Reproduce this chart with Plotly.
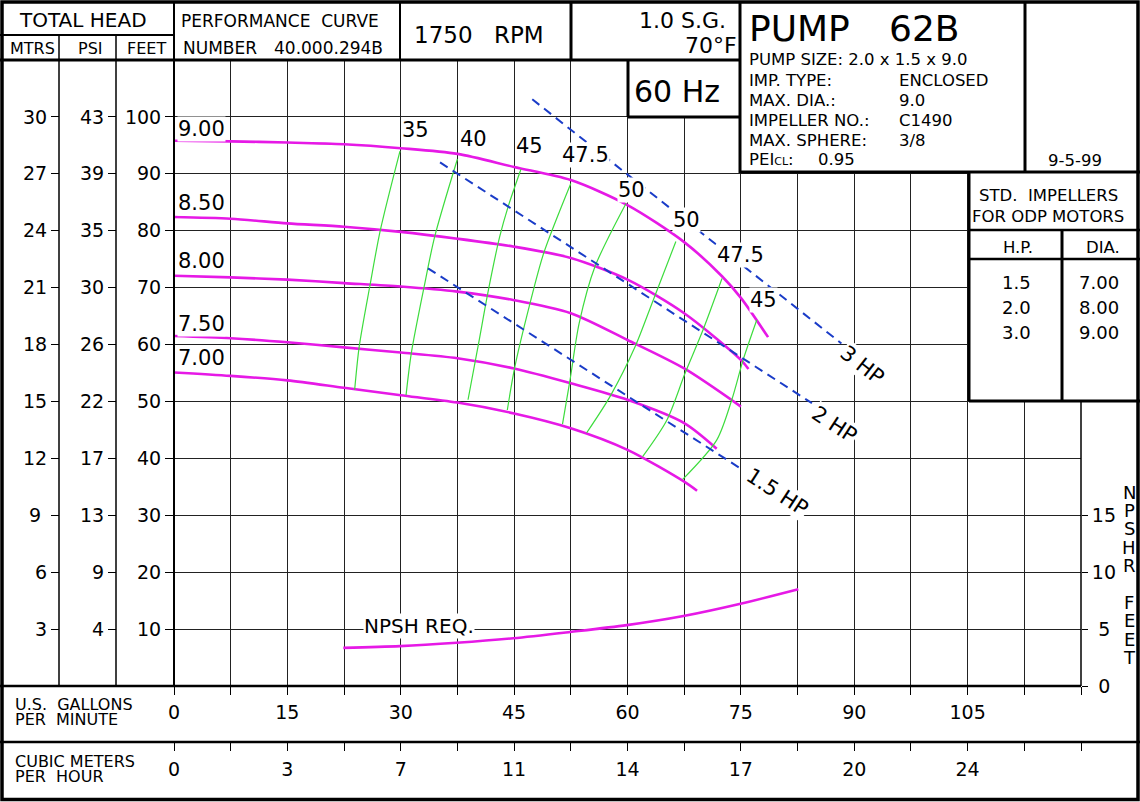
import plotly.graph_objects as go

W, H = 1140, 802
FONT = "DejaVu Sans"
MAG = "#e619e6"
GRN = "#3ddc3d"
BLU = "#1a3cc8"

# ---------------- data ----------------
gpm_ticks = [0, 7.5, 15, 22.5, 30, 37.5, 45, 52.5, 60, 67.5, 75, 82.5, 90, 97.5, 105, 112.5, 120]
gpm_labels = ["0", "", "15", "", "30", "", "45", "", "60", "", "75", "", "90", "", "105", "", ""]
cmh_labels = ["0", "", "3", "", "7", "", "11", "", "14", "", "17", "", "20", "", "24", "", ""]
feet_ticks = [10, 20, 30, 40, 50, 60, 70, 80, 90, 100]
feet_labels = ["10", "20", "30", "40", "50", "60", "70", "80", "90", "100"]
psi_labels = ["4", "9", "13", "17", "22", "26", "30", "35", "39", "43"]
mtrs_labels = ["3", "6", "9\u00a0", "12", "15", "18", "21", "24", "27", "30"]
npsh_ticks = [0, 5, 10, 15]
npsh_tick_labels = ["\u2006\u20060", "\u2006\u20065", "10", "15"]

# impeller diameter head curves (gpm, feet)
d900_q = [0, 7.5, 15, 22.5, 30, 37.5, 45, 52.5, 60, 67.5, 72.5, 75, 78.6]
d900_h = [95.8, 95.7, 95.5, 95.2, 94.5, 93.5, 91.2, 88.9, 84.5, 78.0, 72.0, 68.2, 61.3]
d850_q = [0, 7.5, 15, 22.5, 30, 37.5, 45, 52.5, 60, 67.5, 75, 76]
d850_h = [82.4, 82.1, 81.3, 80.7, 79.8, 78.6, 77.2, 75.2, 71.4, 65.5, 57.3, 55.7]
d800_q = [0, 7.5, 15, 22.5, 30, 37.5, 45, 52.5, 60, 67.5, 75]
d800_h = [72.1, 71.8, 71.4, 70.8, 70.2, 69.3, 67.8, 65.5, 60.8, 55.8, 49.1]
d750_q = [0, 7.5, 15, 22.5, 30, 37.5, 45, 52.5, 60, 67.5, 71.8]
d750_h = [61.5, 61.1, 60.4, 59.5, 58.6, 57.6, 55.8, 53.2, 50.3, 46.2, 41.7]
d700_q = [0, 7.5, 15, 22.5, 30, 37.5, 45, 52.5, 60, 67.5, 69.2]
d700_h = [55.1, 54.5, 53.7, 52.4, 51.1, 49.8, 47.9, 45.3, 41.5, 35.9, 34.3]
dia_names = ["9.00", "8.50", "8.00", "7.50", "7.00"]

# efficiency iso-lines (gpm, feet)
e35_q = [29.9, 27.3, 25.9, 24.5, 23.9]
e35_h = [94.0, 80.1, 70.2, 59.6, 52.0]
e40_q = [37.5, 34.5, 33.1, 31.4, 30.7]
e40_h = [92.6, 79.0, 70.2, 58.5, 51.1]
e45a_q = [45.9, 44.2, 43.1, 41.6, 40.3, 38.9]
e45a_h = [90.8, 84.2, 79.0, 69.6, 60.2, 50.3]
e475a_q = [52.5, 48.9, 47.0, 45.1, 44.1]
e475a_h = [88.3, 76.0, 66.7, 56.1, 48.5]
e50a_q = [59.8, 55.7, 53.6, 52.4, 51.4]
e50a_h = [84.8, 73.7, 63.7, 53.8, 46.0]
e50b_q = [66.4, 63.4, 61.0, 57.7, 54.6]
e50b_h = [78.1, 67.8, 59.6, 50.9, 44.5]
e475b_q = [72.5, 70.0, 67.6, 65.2, 62.0]
e475b_h = [71.6, 62.6, 54.9, 46.7, 40.3]
e45b_q = [77.1, 75.3, 73.8, 71.8, 67.3]
e45b_h = [64.3, 57.3, 50.3, 43.2, 36.3]
eff_names = ["35", "40", "45", "47.5", "50", "50", "47.5", "45"]

# motor horsepower limit lines (gpm, feet)
hp3_q = [47.4, 88.3]
hp3_h = [103.1, 60.2]
hp2_q = [35.2, 84.4]
hp2_h = [92.0, 49.7]
hp15_q = [33.6, 75.1]
hp15_h = [73.4, 38.1]
hp_names = ["3 HP", "2 HP", "1.5 HP"]

# NPSH required (gpm, NPSHR feet on the right-hand scale)
npsh_q = [22.4, 29.9, 37.4, 44.9, 52.4, 59.9, 67.4, 75.1, 82.6]
npsh_h = [3.35, 3.5, 3.8, 4.2, 4.75, 5.35, 6.15, 7.25, 8.5]

# header / table texts
info_labels = ["PUMP SIZE: 2.0 x 1.5 x 9.0", "IMP. TYPE:", "MAX. DIA.:", "IMPELLER NO.:", "MAX. SPHERE:",
               "PEI<span style='font-size:11px'>CL</span>:"]
info_values = ["", "ENCLOSED", "9.0", "C1490", "3/8", "0.95"]
std_hp = ["1.5", "2.0", "3.0"]
std_dia = ["7.00", "8.00", "9.00"]
npsh_letters = ["N", "P", "S", "H", "R", "", "F", "E", "E", "T"]


# ---------------- helpers ----------------
def PX(x):
    return x / W


def PY(y):
    return 1 - y / H


fig = go.Figure()

head_q = [d900_q, d850_q, d800_q, d750_q, d700_q]
head_h = [d900_h, d850_h, d800_h, d750_h, d700_h]
for q, h in zip(head_q, head_h):
    fig.add_trace(go.Scatter(x=q, y=h, mode="lines", line=dict(color=MAG, width=2.6, shape="spline", smoothing=0.8),
                             hoverinfo="skip"))

eff_q = [e35_q, e40_q, e45a_q, e475a_q, e50a_q, e50b_q, e475b_q, e45b_q]
eff_h = [e35_h, e40_h, e45a_h, e475a_h, e50a_h, e50b_h, e475b_h, e45b_h]
for q, h in zip(eff_q, eff_h):
    fig.add_trace(go.Scatter(x=q, y=h, mode="lines", line=dict(color=GRN, width=1.2, shape="spline", smoothing=0.8),
                             hoverinfo="skip"))

for q, h in zip([hp3_q, hp2_q, hp15_q], [hp3_h, hp2_h, hp15_h]):
    fig.add_trace(go.Scatter(x=q, y=h, mode="lines", line=dict(color=BLU, width=2, dash="9px,6px"),
                             hoverinfo="skip"))

fig.add_trace(go.Scatter(x=npsh_q, y=npsh_h, mode="lines", yaxis="y4",
                         line=dict(color=MAG, width=2.6, shape="spline", smoothing=0.8), hoverinfo="skip"))

# dummy traces so the extra axes exist
fig.add_trace(go.Scatter(x=[None], y=[None], yaxis="y2", hoverinfo="skip"))
fig.add_trace(go.Scatter(x=[None], y=[None], yaxis="y3", hoverinfo="skip"))
fig.add_trace(go.Scatter(x=[None], y=[None], xaxis="x2", hoverinfo="skip"))

tickfont = dict(family=FONT, size=19, color="black")
ydom = [PY(686), PY(60)]
xdom = [PX(174), PX(1081)]

common_y = dict(tickmode="array", ticks="outside", ticklen=8, tickwidth=1.3, tickcolor="black",
                showline=False, zeroline=False, tickfont=tickfont, fixedrange=True, automargin=False)

fig.update_layout(
    width=W, height=H, margin=dict(l=0, r=0, t=0, b=0, pad=0, autoexpand=False),
    paper_bgcolor="white", plot_bgcolor="white", showlegend=False, hovermode=False,
    font=dict(family=FONT, color="black"),
    xaxis=dict(domain=xdom, range=[0, 120], tickmode="array", tickvals=gpm_ticks, ticktext=gpm_labels,
               ticks="outside", ticklen=8, tickwidth=1.3, tickcolor="black", showgrid=True, gridcolor="#222",
               gridwidth=1.2, zeroline=False, showline=False, tickfont=tickfont, ticklabelstandoff=1,
               fixedrange=True, automargin=False),
    xaxis2=dict(overlaying="x", anchor="free", position=PY(742), side="bottom", range=[0, 120],
                tickmode="array", tickvals=gpm_ticks, ticktext=cmh_labels, ticks="outside", ticklen=8,
                tickwidth=1.3, tickcolor="black", showgrid=False, zeroline=False, showline=False,
                tickfont=tickfont, ticklabelstandoff=2, fixedrange=True, automargin=False),
    yaxis=dict(domain=ydom, range=[0, 110], tickvals=feet_ticks, ticktext=feet_labels, showgrid=True,
               gridcolor="#222", gridwidth=1.2, **common_y),
    yaxis2=dict(overlaying="y", anchor="free", position=PX(116), side="left", range=[0, 110],
                tickvals=feet_ticks, ticktext=psi_labels, showgrid=False, **common_y),
    yaxis3=dict(overlaying="y", anchor="free", position=PX(59), side="left", range=[0, 110],
                tickvals=feet_ticks, ticktext=mtrs_labels, showgrid=False, **common_y),
    yaxis4=dict(overlaying="y", anchor="free", position=PX(1081), side="right", range=[0, 55],
                tickvals=npsh_ticks, ticktext=npsh_tick_labels, showgrid=False, **{**common_y, "ticklen": 6}),
)

shapes = []


def wrect(x0, y0, x1, y1):
    shapes.append(dict(type="rect", xref="paper", yref="paper", x0=PX(x0), x1=PX(x1), y0=PY(y0), y1=PY(y1),
                       fillcolor="white", line=dict(width=0), layer="above"))


def hline(y, x0, x1, w):
    shapes.append(dict(type="line", xref="paper", yref="paper", x0=PX(x0), x1=PX(x1), y0=PY(y), y1=PY(y),
                       line=dict(color="black", width=w), layer="above"))


def vline(x, y0, y1, w):
    shapes.append(dict(type="line", xref="paper", yref="paper", x0=PX(x), x1=PX(x), y0=PY(y0), y1=PY(y1),
                       line=dict(color="black", width=w), layer="above"))


# white panels covering the grid
wrect(0, 0, 1140, 60)
wrect(740, 0, 1140, 172)
wrect(628, 60, 740, 117)
wrect(969, 172, 1140, 401)

# header lines
hline(35, 0, 174, 2)
hline(60, 0, 740, 3)
vline(174, 2, 686, 2)
vline(400, 2, 60, 2)
vline(571, 2, 60, 3)
vline(740, 2, 173, 3)
vline(628, 60, 117, 3)
hline(117, 628, 740, 3)
vline(1025, 2, 172, 3)
hline(172, 740, 1140, 3)
# std impeller table
vline(969, 172, 401, 3)
hline(230, 969, 1140, 2.5)
hline(259, 969, 1140, 2.5)
vline(1062, 230, 401, 3)
hline(401, 969, 1140, 3)
# left axis columns
vline(59, 35, 686, 1.5)
vline(116, 35, 686, 1.5)
# right NPSH axis line
vline(1081, 401, 686, 1.5)
# bottom rows
hline(686, 0, 1081, 2.5)
hline(742, 0, 1140, 2.5)
# outer border
shapes.append(dict(type="rect", xref="paper", yref="paper", x0=PX(2), x1=PX(1138), y0=PY(2), y1=PY(799.5),
                   line=dict(color="black", width=3.5), fillcolor="rgba(0,0,0,0)", layer="above"))

anns = []


def txt(s, x, y, size, xanchor="center", bg=None, angle=0):
    d = dict(text=s, xref="paper", yref="paper", x=PX(x), y=PY(y), showarrow=False, xanchor=xanchor,
             yanchor="middle", font=dict(family=FONT, size=size, color="black"), textangle=angle, borderpad=0)
    if bg:
        d["bgcolor"] = bg
    anns.append(d)


# header texts
txt("TOTAL HEAD", 83, 20, 20)
txt("MTRS", 32, 48, 16)
txt("PSI", 90, 48, 16)
txt("FEET", 146, 48, 16)
txt("PERFORMANCE\u00a0\u00a0CURVE", 180, 21, 17, "left")
txt("NUMBER", 182, 48, 17, "left")
txt("40.000.294B", 273, 48, 17, "left")
txt("1750", 413, 35, 23, "left")
txt("RPM", 493, 35, 23, "left")
txt("1.0 S.G.", 727, 21, 22, "right")
txt("70°F", 738, 45, 22, "right")
txt("60 Hz", 677, 92, 30)
txt("PUMP", 748, 28, 36, "left")
txt("62B", 888, 28, 36, "left")
info_y = [59, 80, 100, 120, 140, 159]
for lab, val, yy in zip(info_labels, info_values, info_y):
    txt(lab, 748, yy, 16.5, "left")
    if val:
        txt(val, 817 if lab.startswith("PEI") else 898, yy, 16.5, "left")
txt("9-5-99", 1075, 160, 16.5)
txt("STD.\u00a0\u00a0IMPELLERS", 1048, 195, 16.5)
txt("FOR ODP MOTORS", 1048, 216, 16.5)
txt("H.P.", 1018, 247, 16.5)
txt("DIA.", 1103, 247, 16.5)
for i, (hp, dia) in enumerate(zip(std_hp, std_dia)):
    txt(hp, 1016, 282 + 25.5 * i, 18)
    txt(dia, 1099, 282 + 25.5 * i, 18)

# bottom row titles
txt("U.S.\u00a0\u00a0GALLONS", 14, 704, 16, "left")
txt("PER\u00a0\u00a0MINUTE", 14, 719, 16, "left")
txt("CUBIC METERS", 14, 761, 16, "left")
txt("PER\u00a0\u00a0HOUR", 14, 776, 16, "left")

# NPSHR FEET vertical letters
for k, ch in enumerate(npsh_letters):
    if ch:
        txt(ch, 1129, 492 + 18.4 * k, 18)

# curve labels
for name, yy in zip(dia_names, [129, 203, 261, 324, 358]):
    txt(name, 177, yy, 21, "left", bg="white")
eff_pos = [(415, 130), (473, 139), (529, 146), (585, 155), (631, 190), (686, 220), (740, 255), (763, 300)]
for name, (xx, yy) in zip(eff_names, eff_pos):
    txt(name, xx, yy, 21, bg="white")
hp_pos = [(862, 365, 38), (835, 425, 33), (777, 492, 33)]
for name, (xx, yy, ang) in zip(hp_names, hp_pos):
    txt(name, xx, yy, 21, bg="white", angle=ang)
txt("NPSH REQ.", 419, 626, 20, bg="white")

fig.update_layout(shapes=shapes, annotations=anns)
fig.write_html("out.html", config={"displayModeBar": False},
               post_script="document.body.style.margin='0';")
